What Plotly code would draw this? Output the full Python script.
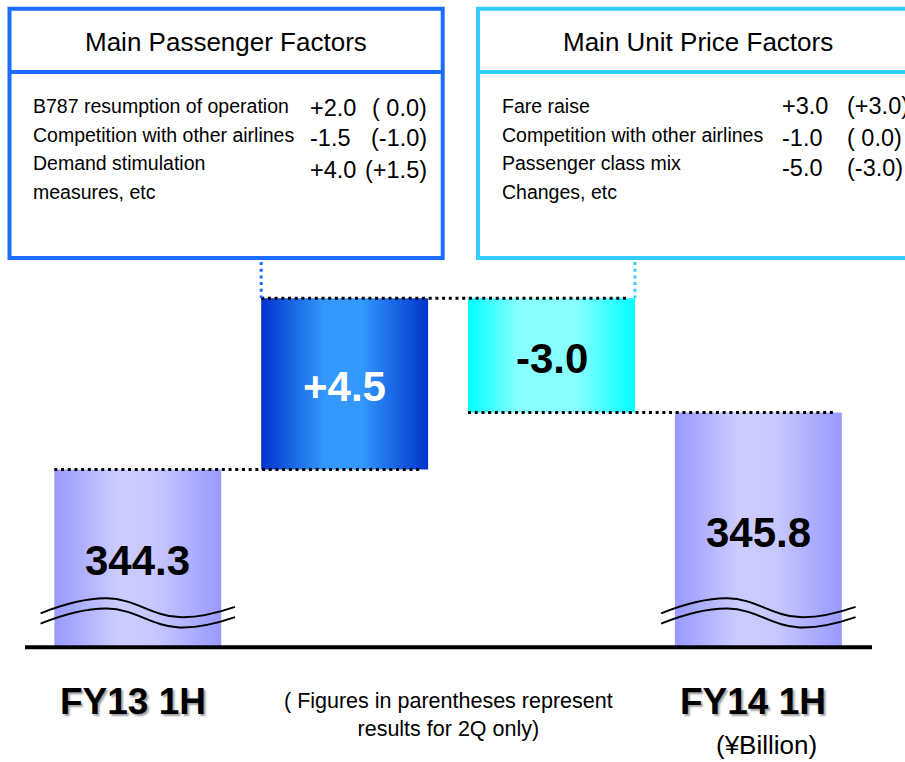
import plotly.graph_objects as go

W, H = 905, 762
FONT = "Liberation Sans, Arial, sans-serif"

# ---- data (¥ billion) ----
categories = ["FY13 1H", "Passenger", "Unit Price", "FY14 1H"]
start_total = 344.3
passenger_change = 4.5
unit_price_change = -3.0
end_total = 345.8
axis_floor = 339.67          # value at the broken baseline

passenger_items = ["B787 resumption of operation",
                   "Competition with other airlines",
                   "Demand stimulation\nmeasures, etc"]
passenger_1h = ["+2.0", "-1.5", "+4.0"]
passenger_2q = ["( 0.0)", "(-1.0)", "(+1.5)"]

unit_items = ["Fare raise",
              "Competition with other airlines",
              "Passenger class mix\nChanges, etc"]
unit_1h = ["+3.0", "-1.0", "-5.0"]
unit_2q = ["(+3.0)", "( 0.0)", "(-3.0)"]

# ---- styling ----
BAR_W = 0.807
grad_total = [[0, "#9999FF"], [0.38, "#CCCCFF"], [0.6, "#C8C8FF"], [1, "#9999FF"]]
grad_pass = [[0, "#0033CC"], [0.38, "#3399FF"], [0.6, "#3399FF"], [1, "#0033CC"]]
grad_unit = [[0, "#00FFFF"], [0.3, "#88FFFF"], [0.65, "#88FFFF"], [1, "#00FFFF"]]
BLUE_BOX = "#1A6DFF"
CYAN_BOX = "#33CCFF"


def px(x):
    return x / W


def py(y):
    return 1 - y / H


def note(x, y, text, size, xanchor="center", xref="paper", **kw):
    fig.add_annotation(x=x, y=y, xref=xref, yref="paper", text=text, showarrow=False,
                       xanchor=xanchor, yanchor="middle",
                       font=dict(family=FONT, size=size, color="black",
                                 **kw.pop("font_extra", {})), **kw)


# running levels of the waterfall
lvl_after_pass = start_total + passenger_change
lvl_after_unit = lvl_after_pass + unit_price_change
bar_lo = [axis_floor, start_total, lvl_after_unit, axis_floor]
bar_hi = [start_total, lvl_after_pass, lvl_after_pass, end_total]
bar_grad = [grad_total, grad_pass, grad_unit, grad_total]
bar_text = [f"{start_total:.1f}", f"{passenger_change:+.1f}",
            f"{unit_price_change:+.1f}", f"{end_total:.1f}"]
bar_text_color = ["black", "white", "black", "black"]

fig = go.Figure()

for i in range(len(categories)):
    x0, x1 = i - BAR_W / 2, i + BAR_W / 2
    lo, hi = bar_lo[i], bar_hi[i]
    fig.add_trace(go.Scatter(
        x=[x0, x1, x1, x0, x0], y=[lo, lo, hi, hi, lo],
        mode="lines", fill="toself", line=dict(width=0, color="rgba(0,0,0,0)"),
        fillgradient=dict(type="horizontal", colorscale=bar_grad[i]),
        hoverinfo="skip", showlegend=False))
    fig.add_annotation(x=i, y=(lo + hi) / 2, text=f"<b>{bar_text[i]}</b>",
                       showarrow=False, xref="x", yref="y", yshift=-3,
                       xanchor="center", yanchor="middle",
                       font=dict(family=FONT, size=42, color=bar_text_color[i]))

# axis-break waves on the two total bars
wave_dx = [-0.47, -0.15, 0.20, 0.47]
wave_dy = [0.85, 1.245, 0.75, 1.02]
for i in (0, 3):
    for off in (0.0, -0.27):
        fig.add_trace(go.Scatter(
            x=[i + d for d in wave_dx],
            y=[axis_floor + d + off for d in wave_dy],
            mode="lines", line=dict(color="black", width=2, shape="spline", smoothing=1.2),
            hoverinfo="skip", showlegend=False))

# dotted connectors between bar levels
DOT = "3px,3.7px"
connectors = [(0, 1, start_total), (1, 2, lvl_after_pass), (2, 3, lvl_after_unit)]
for a, b, lvl in connectors:
    fig.add_shape(type="line", xref="x", yref="y",
                  x0=a - BAR_W / 2, x1=b + BAR_W / 2 - 0.04, y0=lvl, y1=lvl,
                  line=dict(color="black", width=3, dash=DOT))

# baseline
fig.add_shape(type="line", xref="paper", yref="y", x0=px(25), x1=px(872),
              y0=axis_floor - 0.04, y1=axis_floor - 0.04,
              line=dict(color="black", width=4))

# factor boxes
boxes = [
    dict(x0=9.5, x1=442.7, color=BLUE_BOX, title="Main Passenger Factors",
         items=passenger_items, v1=passenger_1h, v2=passenger_2q,
         label_x=31, num_x=308, paren_x=429, paren_anchor="right",
         num_y=[107.5, 138, 170], link_x=1 - BAR_W / 2),
    dict(x0=478, x1=917, color=CYAN_BOX, title="Main Unit Price Factors",
         items=unit_items, v1=unit_1h, v2=unit_2q,
         label_x=500, num_x=780, paren_x=845, paren_anchor="left",
         num_y=[106, 137.5, 168], link_x=2 + BAR_W / 2),
]
for bx in boxes:
    fig.add_shape(type="rect", xref="paper", yref="paper",
                  x0=px(bx["x0"]), x1=px(bx["x1"]), y0=py(8.7), y1=py(258),
                  line=dict(color=bx["color"], width=4))
    fig.add_shape(type="line", xref="paper", yref="paper",
                  x0=px(bx["x0"]), x1=px(bx["x1"]), y0=py(72), y1=py(72),
                  line=dict(color=bx["color"], width=4))
    note(px((bx["x0"] + bx["x1"]) / 2), py(42.5), bx["title"], 26)
    lines = []
    for it in bx["items"]:
        lines.extend(it.split("\n"))
    for k, line in enumerate(lines):
        note(px(bx["label_x"]), py(106 + 28.6 * k), line, 19.5, xanchor="left")
    for k in range(len(bx["v1"])):
        note(px(bx["num_x"]), py(bx["num_y"][k]), bx["v1"][k], 23.5, xanchor="left")
        note(px(bx["paren_x"]), py(bx["num_y"][k]), bx["v2"][k], 23.5,
             xanchor=bx["paren_anchor"])
    # dotted link from the box down to its bar
    fig.add_shape(type="line", xref="x", yref="paper",
                  x0=bx["link_x"], x1=bx["link_x"], y0=py(262), y1=py(298),
                  line=dict(color=bx["color"], width=3, dash=DOT))

# category labels under the axis
for i in (0, 3):
    note(i, py(701), f"<b>{categories[i]}</b>", 37, xref="x", xshift=-5,
         font_extra=dict(shadow="2px 2px 2px #a0a0a0"))

note(px(448), py(715), "( Figures in parentheses represent<br>results for 2Q only)", 21.5)
note(px(766), py(745), "(¥Billion)", 26)

fig.update_layout(
    width=W, height=H, margin=dict(l=0, r=0, t=0, b=0),
    paper_bgcolor="white", plot_bgcolor="white", showlegend=False,
    xaxis=dict(range=[-0.6662, 3.709], visible=False, fixedrange=True),
    yaxis=dict(range=[336.612, 356.639], visible=False, fixedrange=True),
)

fig.write_html("out.html")
